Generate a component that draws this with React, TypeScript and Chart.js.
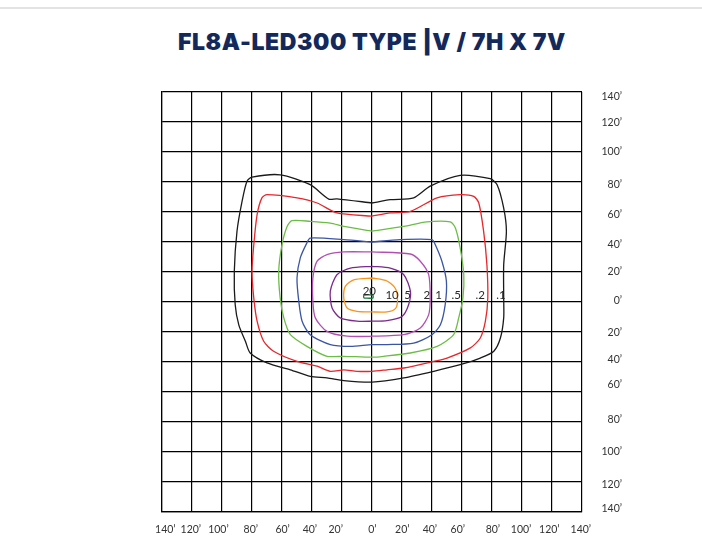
import React, { useEffect, useRef } from "react";
import { Chart, registerables } from "chart.js";

Chart.register(...registerables);

const titleText = "FL8A-LED300 TYPE |V / 7H X 7V";

// Grid in half-mounting-height cells (-7..7 each way)
const gridMin = -7;
const gridMax = 7;

// Bottom axis tick labels and their positions (grid units)
const xTickPos = [-6.89, -6.04, -5.12, -4.04, -2.98, -2.07, -1.21, 0.01, 1.01, 1.93, 2.86, 4.03, 4.97, 5.91, 6.96];
const xTickLabels = ["140’", "120’", "100’", "80’", "60’", "40’", "20’", "0’", "20’", "40’", "60’", "80’", "100’", "120’", "140’"];

// Right axis tick labels and their positions (grid units)
const yTickPos = [6.84, 5.97, 5.0, 3.9, 2.9, 1.9, 1.0, 0.03, -1.03, -1.93, -2.77, -3.93, -5.0, -6.1, -6.9];
const yTickLabels = ["140’", "120’", "100’", "80’", "60’", "40’", "20’", "0’", "20’", "40’", "60’", "80’", "100’", "120’", "140’"];

// Iso-footcandle contours [x, y] in grid units
const contour01 = [
  [0, 3.3], [0.61, 3.41], [1.39, 3.47], [1.94, 3.86], [2.94, 4.22], [3.94, 4.11], [4.17, 3.91], [4.39, 3.13],
  [4.48, 2.36], [4.39, 1.24], [4.39, 0.13], [4.39, -0.53], [4.28, -1.2], [4.06, -1.64], [3.61, -1.87],
  [2.94, -2.09], [2.06, -2.31], [1.06, -2.53], [0, -2.67], [-0.94, -2.62], [-1.5, -2.53], [-2.06, -2.48],
  [-2.72, -2.26], [-3.5, -2.03], [-4.06, -1.7], [-4.22, -1.31], [-4.44, -0.76], [-4.56, -0.09], [-4.59, 1.02],
  [-4.5, 2.36], [-4.33, 3.36], [-4.17, 4.02], [-4.0, 4.16], [-3.06, 4.24], [-2.06, 3.91], [-1.44, 3.43],
  [-1.17, 3.44], [0, 3.3],
];
const contour02 = [
  [0, 2.86], [0.61, 2.97], [1.28, 3.02], [2.17, 3.47], [2.94, 3.58], [3.39, 3.52], [3.56, 3.3], [3.72, 2.36],
  [3.83, 1.24], [3.86, 0.13], [3.78, -0.64], [3.61, -1.2], [3.28, -1.53], [2.5, -1.87], [2.06, -1.98],
  [1.06, -2.2], [0.5, -2.26], [0, -2.31], [-0.5, -2.31], [-0.94, -2.26], [-1.39, -2.31], [-1.83, -2.14],
  [-2.5, -1.98], [-3.28, -1.64], [-3.61, -1.31], [-3.83, -0.64], [-3.94, 0.13], [-4.0, 1.02], [-3.94, 1.91],
  [-3.83, 2.91], [-3.67, 3.47], [-3.5, 3.58], [-2.5, 3.47], [-1.83, 3.3], [-1.17, 2.97], [0, 2.86],
];
const contour05 = [
  [0, 2.36], [1.06, 2.52], [1.83, 2.67], [2.61, 2.67], [2.78, 2.47], [2.94, 1.8], [3.06, 0.91], [3.03, 0.13],
  [2.89, -0.53], [2.72, -1.09], [2.17, -1.48], [1.28, -1.7], [0.39, -1.81], [0, -1.84], [-0.94, -1.81],
  [-1.5, -1.81], [-2.17, -1.48], [-2.72, -1.09], [-2.94, -0.53], [-3.06, 0.13], [-3.11, 1.02], [-3.0, 1.91],
  [-2.83, 2.52], [-2.67, 2.71], [-2.06, 2.69], [-1.39, 2.63], [-0.94, 2.52], [0, 2.36],
];
const contour1 = [
  [0, 2.0], [0.94, 2.08], [2.0, 2.08], [2.11, 1.91], [2.33, 1.36], [2.48, 0.69], [2.44, -0.09], [2.28, -0.76],
  [2.0, -1.09], [1.39, -1.37], [0.5, -1.42], [0, -1.42], [-0.72, -1.48], [-1.39, -1.42], [-2.06, -1.09],
  [-2.33, -0.64], [-2.44, 0.02], [-2.5, 0.8], [-2.39, 1.47], [-2.17, 1.97], [-2.06, 2.13], [-0.94, 2.08], [0, 2.0],
];
const contour2 = [
  [0, 1.67], [1.28, 1.6], [1.61, 1.36], [1.89, 0.91], [1.94, 0.13], [1.89, -0.42], [1.61, -0.87], [1.06, -1.09],
  [0, -1.14], [-0.83, -1.14], [-1.5, -0.98], [-1.89, -0.53], [-1.97, 0.02], [-1.97, 0.8], [-1.83, 1.36],
  [-1.5, 1.58], [-0.94, 1.67], [0, 1.67],
];
const contour5 = [
  [0, 1.19], [0.61, 1.13], [1.06, 0.91], [1.28, 0.36], [1.22, -0.09], [1.0, -0.48], [0.5, -0.62], [0, -0.64],
  [-0.5, -0.64], [-1.06, -0.53], [-1.33, -0.2], [-1.39, 0.36], [-1.17, 0.91], [-0.72, 1.13], [0, 1.19],
];
const contour10 = [
  [0, 0.8], [0.5, 0.7], [0.78, 0.45], [0.85, 0.05], [0.78, -0.22], [0.5, -0.33], [0, -0.33], [-0.5, -0.31],
  [-0.83, -0.2], [-0.94, 0.13], [-0.89, 0.52], [-0.61, 0.74], [0, 0.8],
];
const contour20 = [
  [-0.27, 0.13], [0.03, 0.13], [0.04, 0.18], [0.03, 0.23], [-0.27, 0.23], [-0.28, 0.18], [-0.27, 0.13],
];

const contourLevels = [".1", ".2", ".5", "1", "2", "5", "10", "20"];
const contourColors = ["#1a1a1a", "#e8262b", "#6cbd45", "#3b55a5", "#b24fb3", "#7a2a8c", "#f7941d", "#1c7a3c"];
const contourData = [contour01, contour02, contour05, contour1, contour2, contour5, contour10, contour20];

// Contour value labels
const labelTexts = ["20", "10", "5", "2", "1", ".5", ".2", ".1"];
const labelX = [-0.09, 0.67, 1.19, 1.83, 2.22, 2.81, 3.61, 4.3];
const labelY = [0.37, 0.22, 0.22, 0.22, 0.22, 0.22, 0.22, 0.22];

const labelPlugin = {
  id: "contourLabels",
  afterDatasetsDraw(chart: any) {
    const { ctx, scales } = chart;
    ctx.save();
    ctx.font = "11.5px Lato, 'Liberation Sans', sans-serif";
    ctx.fillStyle = "#2a2a2a";
    ctx.textAlign = "center";
    ctx.textBaseline = "middle";
    labelTexts.forEach((t, i) => {
      ctx.fillText(t, scales.x.getPixelForValue(labelX[i]), scales.y.getPixelForValue(labelY[i]));
    });
    ctx.restore();
  },
};

export default function App() {
  const ref = useRef<HTMLCanvasElement>(null);
  useEffect(() => {
    if (!ref.current) return;
    const tickFont = { family: "Lato, 'Liberation Sans', sans-serif", size: 10.5 };
    const chart = new Chart(ref.current, {
      type: "scatter",
      data: {
        datasets: contourData.map((pts, i) => ({
          label: contourLevels[i],
          data: pts.map(([x, y]) => ({ x, y })),
          showLine: true,
          fill: false,
          borderColor: contourColors[i],
          borderWidth: 1.3,
          pointRadius: 0,
          tension: 0.25,
        })),
      },
      options: {
        responsive: false,
        animation: false,
        layout: { padding: { left: 162, top: 92, right: 80, bottom: 10 } },
        plugins: { legend: { display: false }, tooltip: { enabled: false }, title: { display: false } },
        scales: {
          x: {
            type: "linear",
            position: "bottom",
            min: gridMin,
            max: gridMax,
            ticks: { display: false, stepSize: 1 },
            grid: { color: "#000", lineWidth: 1.2, drawTicks: false },
            border: { display: true, color: "#000", width: 1.2 },
            afterFit: (s: any) => { s.height = 0; },
          },
          y: {
            type: "linear",
            position: "left",
            min: gridMin,
            max: gridMax,
            ticks: { display: false, stepSize: 1 },
            grid: { color: "#000", lineWidth: 1.2, drawTicks: false },
            border: { display: true, color: "#000", width: 1.2 },
            afterFit: (s: any) => { s.width = 0; },
          },
          xl: {
            type: "linear",
            position: "bottom",
            min: gridMin,
            max: gridMax,
            grid: { display: false, drawTicks: false },
            border: { display: false },
            afterBuildTicks: (axis: any) => { axis.ticks = xTickPos.map((v) => ({ value: v })); },
            ticks: {
              autoSkip: false,
              maxRotation: 0,
              padding: 11,
              color: "#333",
              font: tickFont,
              callback: (_v: any, i: number) => xTickLabels[i],
            },
            afterFit: (s: any) => { s.height = 30; },
          },
          yr: {
            type: "linear",
            position: "right",
            min: gridMin,
            max: gridMax,
            grid: { display: false, drawTicks: false },
            border: { display: false },
            afterBuildTicks: (axis: any) => { axis.ticks = yTickPos.map((v) => ({ value: v })); },
            ticks: {
              autoSkip: false,
              padding: 10,
              crossAlign: "far",
              color: "#333",
              font: tickFont,
              callback: (_v: any, i: number) => yTickLabels[i],
            },
            afterFit: (s: any) => { s.width = 40; },
          },
        },
      } as any,
      plugins: [labelPlugin],
    });
    return () => chart.destroy();
  }, []);

  return (
    <div style={{ position: "absolute", left: 0, top: 0, width: 702, height: 552, background: "#fff", overflow: "hidden" }}>
      <div style={{ position: "absolute", left: 0, top: 7, width: 702, height: 2, background: "#e3e3e3" }} />
      <div
        style={{
          position: "absolute",
          left: 0,
          width: 744,
          top: 28,
          textAlign: "center",
          fontFamily: "Inter, 'Noto Sans', sans-serif",
          fontWeight: 900,
          fontSize: 23,
          letterSpacing: "0.6px",
          lineHeight: "28px",
          color: "#13295b",
          whiteSpace: "nowrap",
        }}
      >
        {titleText}
      </div>
      <canvas ref={ref} width={702} height={552} style={{ position: "absolute", left: 0, top: 0, width: 702, height: 552 }} />
    </div>
  );
}
